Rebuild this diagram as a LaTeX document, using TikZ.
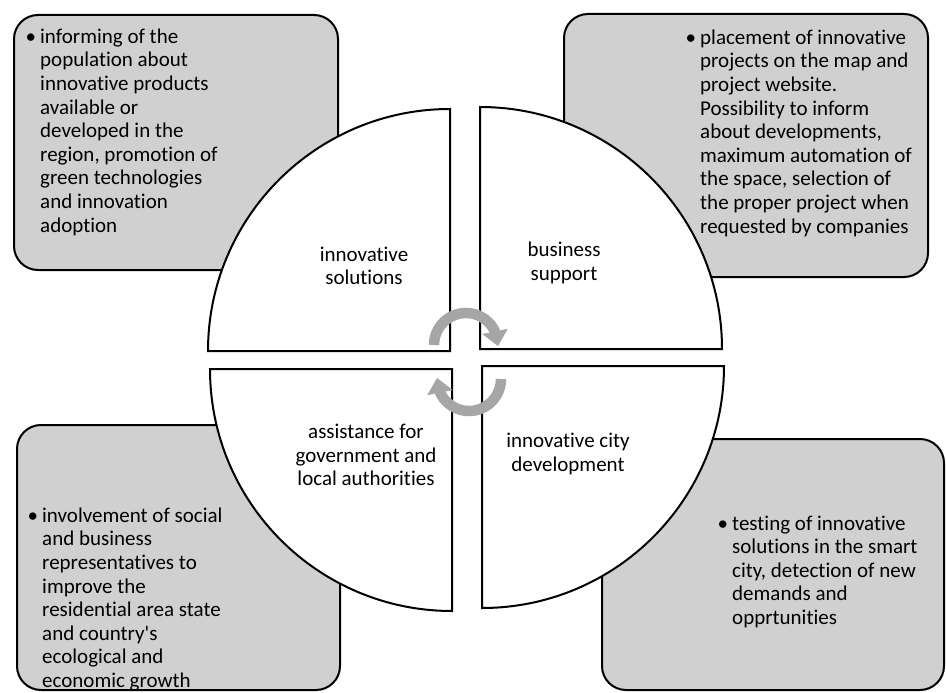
\documentclass[tikz,border=0pt]{standalone}
\usepackage{fontspec}
\setmainfont{Carlito}[Ligatures={TeXOff,CommonOff}]
\usetikzlibrary{arrows.meta,bending}
\definecolor{boxgray}{HTML}{D0D0D0}
\definecolor{arrgray}{HTML}{A6A6A6}
\newcommand{\bulletmark}{\llap{\textbullet\hspace{4pt}}}
\tikzset{
  infobox/.style={draw=black, line width=2pt, fill=boxgray, rounded corners=24pt, inner sep=0pt},
  quadrant/.style={draw=black, line width=2pt, fill=white},
  txt/.style={inner sep=0pt, font=\fontsize{21}{23.6}\selectfont},
  bodytxt/.style={txt, align=left, anchor=north west},
  centertxt/.style={txt, align=center},
  cyc/.style={draw=arrgray, line width=10.5pt, -{Triangle[width=25pt,length=15pt]}}
}
\begin{document}
\begin{tikzpicture}[x=1pt,y=-1pt]
\useasboundingbox (0,0) rectangle (946,693);
% gray info boxes
\node[infobox, minimum width=324pt, minimum height=255pt] (tlbox) at (176,142.5) {};
\node[infobox, minimum width=364pt, minimum height=263pt] (trbox) at (746,145.5) {};
\node[infobox, minimum width=323pt, minimum height=265pt] (blbox) at (178.5,557.5) {};
\node[infobox, minimum width=342pt, minimum height=251pt] (brbox) at (773,564.5) {};
% quadrants
\coordinate (ctl) at (450,351);
\coordinate (ctr) at (480,349);
\coordinate (cbl) at (452,369);
\coordinate (cbr) at (482,366);
\draw[quadrant] (ctl) -- ++(-242,0) arc[start angle=180, end angle=270, radius=242] -- cycle;
\draw[quadrant] (ctr) -- ++(0,-242) arc[start angle=270, end angle=360, radius=242] -- cycle;
\draw[quadrant] (cbr) -- ++(242,0) arc[start angle=0, end angle=90, radius=242] -- cycle;
\draw[quadrant] (cbl) -- ++(0,242) arc[start angle=90, end angle=180, radius=242] -- cycle;
% quadrant labels
\node[centertxt] (q1) at (364,266) {innovative\\solutions};
\node[centertxt] (q2) at (564,263) {business\\support};
\node[centertxt] (q3) at (366,455) {assistance for\\government and\\local authorities};
\node[centertxt] (q4) at (568,454) {innovative city\\development};
% cycle arrows
\coordinate (atop) at (466,345);
\coordinate (abot) at (469,379);
\draw[cyc] ([shift={(180:32)}]atop) arc[start angle=180, end angle=362, radius=32];
\draw[cyc] ([shift={(0:32)}]abot) arc[start angle=0, end angle=182, radius=32];
% box texts
\node[bodytxt] (t1) at (40,28.5) {\bulletmark informing of the\\population about\\innovative products\\available or\\developed in the\\region, promotion of\\green technologies\\and innovation\\adoption};
\node[bodytxt] (t2) at (700,29.5) {\bulletmark placement of innovative\\projects on the map and\\project website.\\Possibility to inform\\about developments,\\maximum automation of\\the space, selection of\\the proper project when\\requested by companies};
\node[bodytxt] (t3) at (42,507.5) {\bulletmark involvement of social\\and business\\representatives to\\improve the\\residential area state\\and country's\\ecological and\\economic growth};
\node[bodytxt] (t4) at (732,515.5) {\bulletmark testing of innovative\\solutions in the smart\\city, detection of new\\demands and\\opprtunities};
\end{tikzpicture}
\end{document}
